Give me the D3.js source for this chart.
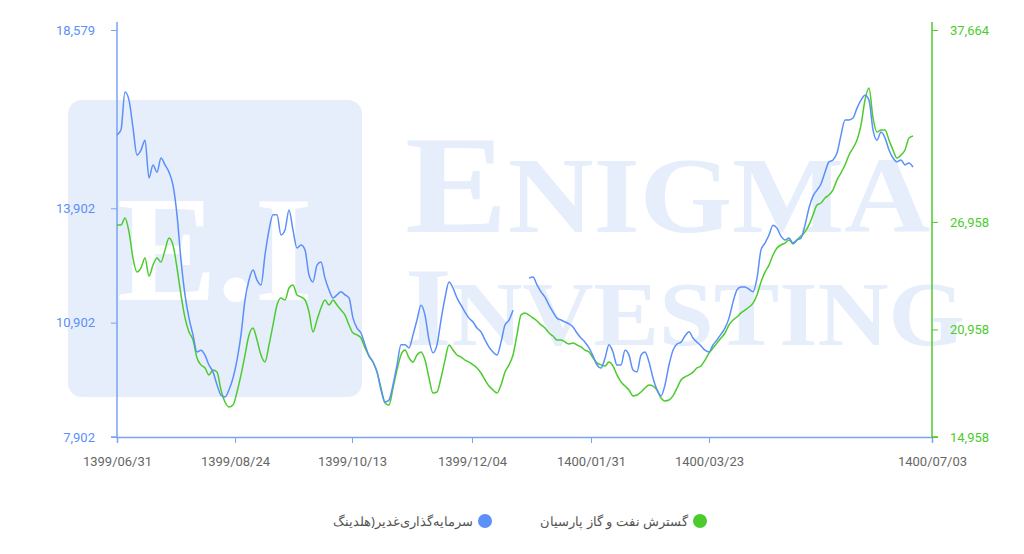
<!DOCTYPE html>
<html><head><meta charset="utf-8">
<script src="https://cdn.jsdelivr.net/npm/d3@7/dist/d3.min.js"></script>
<style>body{margin:0;background:#fff}svg{display:block}</style>
</head><body><svg id="c" width="1024" height="554"></svg>
<script>
const xTickLabels = ["1399/06/31","1399/08/24","1399/10/13","1399/12/04","1400/01/31","1400/03/23","1400/07/03"];
const xTickIndex = [0, 29.5, 58.75, 88.75, 118.5, 148, 203.75];
const leftTicks = [7902, 10902, 13902, 18579];
const rightTicks = [14958, 20958, 26958, 37664];
const seriesNames = ["سرمایه‌گذاری‌غدیر(هلدینگ", "گسترش نفت و گاز پارسیان"];
const ghadir = [15820,15960,16950,16740,16010,15300,15430,15690,14700,15040,14850,15220,15040,14850,14510,13730,12540,11630,11020,10580,10130,10180,10050,9790,9610,9270,9000,8950,9140,9450,9920,10580,11500,12020,12280,12020,11890,12680,13330,13730,13730,13200,13330,13860,13330,12860,12940,12810,12150,11970,12410,12490,12070,11760,11550,11630,11710,11630,11550,11020,10760,10630,10320,10030,9870,9610,9140,8820,8870,9270,9790,10320,10320,10240,10580,10970,11360,11100,10450,10110,10320,10970,11550,11970,11810,11550,11360,11180,11020,10920,10760,10660,10450,10260,10130,10050,10390,10840,10970,11230,null,null,null,12070,12100,11890,11710,11570,11360,11180,11020,10970,10920,10870,10790,10630,10500,10390,10240,10030,9790,9710,9970,10320,10130,9790,9790,10180,10050,9660,9610,10050,10130,9870,9450,9140,8980,9270,9790,10180,10340,10390,10550,10660,10500,10390,10290,10180,10130,10320,10450,10600,10760,11020,11440,11760,11840,11840,11780,11710,12070,12810,12990,13200,13460,13380,13170,13070,13120,12990,13070,13120,13460,13910,14220,14380,14540,14850,15120,15170,15350,15820,16220,16220,16270,16530,16740,16870,16740,15960,15690,15900,15750,15430,15220,15120,15170,15040,15090,14980];
const parsian = [26790,26790,27180,26400,24940,24160,24390,24940,23940,24550,24940,24720,25390,26060,25670,24390,22880,21600,20820,20370,19370,18980,18810,18420,18700,18580,17580,16910,16630,16740,17470,18420,19530,20650,21040,20370,19530,19140,20090,21210,22320,22710,22600,23270,23440,22880,22770,22600,21930,20820,21490,22160,22600,22320,22600,22320,22040,21760,21210,20760,20650,20480,19920,19480,19140,18580,17690,16860,16740,17690,18700,19530,19810,19370,19140,19530,19700,19250,18250,17410,17470,18250,19250,20090,19810,19530,19420,19250,19140,18980,18810,18530,18140,17800,17580,17410,17860,18580,18980,19530,20650,21760,21880,21760,21600,21430,21210,21040,20760,20590,20370,20370,20260,20150,20200,20090,19980,19810,19700,19370,19090,18980,18920,19140,18920,18420,18030,17800,17580,17250,17300,17470,17690,17860,17800,17580,17130,16970,17020,17250,17690,18140,18310,18420,18580,18810,18920,19250,19640,19920,20200,20480,20760,21210,21490,21650,21880,22040,22210,22430,22880,23610,24160,24550,25110,25500,25670,25780,25950,25730,25950,26170,26400,26790,27340,27900,28010,28290,28460,28740,29300,29690,30130,30690,31080,31530,32360,33760,34430,32760,31970,32090,32090,31530,30970,30520,30690,30970,31640,31750];

const blue = "#5b8ff9", green = "#4ccb2e", blueAxis = "#7aa3f5";
const svg = d3.select("#c");
const L = 117, R = 932, T = 30, B = 437;
const x = d3.scaleLinear().domain([0, 203.75]).range([L, R]);
const yL = d3.scaleLinear().domain([7902, 18579]).range([B, T]);
const yR = d3.scaleLinear().domain([14958, 37664]).range([B, T]);

// watermark
const wm = svg.append("g").attr("font-family","Liberation Serif, serif").attr("font-weight","bold");
wm.append("rect").attr("x",68).attr("y",100).attr("width",294).attr("height",297).attr("rx",14).attr("fill","#e7eefb");
wm.append("text").attr("x",215).attr("y",300).attr("text-anchor","middle").attr("font-size",150).attr("fill","#ffffff").text("E.I");
const w1 = wm.append("text").attr("x",405).attr("y",232).attr("fill","#e6eefb").attr("textLength",525).attr("lengthAdjust","spacingAndGlyphs");
w1.append("tspan").attr("font-size",140).text("E");
w1.append("tspan").attr("font-size",108).text("NIGMA");
const w2 = wm.append("text").attr("x",405).attr("y",345).attr("fill","#e6eefb").attr("textLength",560).attr("lengthAdjust","spacingAndGlyphs");
w2.append("tspan").attr("font-size",112).text("I");
w2.append("tspan").attr("font-size",92).text("NVESTING");

// axes
const ax = d3.axisBottom(x).tickValues(xTickIndex).tickFormat((d,i)=>xTickLabels[i]).tickSize(6).tickPadding(14);
const gx = svg.append("g").attr("transform",`translate(0,${B})`).call(ax);
gx.select(".domain").attr("stroke",blueAxis).attr("stroke-width",1.5);
gx.selectAll(".tick line").attr("stroke",blueAxis);
gx.selectAll(".tick text").attr("fill","#666").attr("font-size",13).attr("font-family","Roboto, sans-serif");

const al = d3.axisLeft(yL).tickValues(leftTicks).tickFormat(d3.format(",")).tickSize(6).tickPadding(16);
const gl = svg.append("g").attr("transform",`translate(${L},0)`).call(al);
gl.select(".domain").attr("stroke",blueAxis).attr("stroke-width",1.5).attr("d",`M-6,${B}H0V${T-8}`);
gl.selectAll(".tick line").attr("stroke",blueAxis);
gl.selectAll(".tick text").attr("fill",blue).attr("font-size",13).attr("font-family","Roboto, sans-serif");

const ar = d3.axisRight(yR).tickValues(rightTicks).tickFormat(d3.format(",")).tickSize(6).tickPadding(12);
const gr = svg.append("g").attr("transform",`translate(${R},0)`).call(ar);
gr.select(".domain").attr("stroke",green).attr("stroke-width",1.5).attr("d",`M6,${B}H0V${T-8}`);
gr.selectAll(".tick line").attr("stroke",green);
gr.selectAll(".tick text").attr("fill",green).attr("font-size",13).attr("font-family","Roboto, sans-serif");

// lines
const lineL = d3.line().defined(d=>d!=null).x((d,i)=>x(i)).y(d=>yL(d)).curve(d3.curveMonotoneX);
const lineR = d3.line().defined(d=>d!=null).x((d,i)=>x(i)).y(d=>yR(d)).curve(d3.curveMonotoneX);
svg.append("path").attr("d",lineR(parsian)).attr("fill","none").attr("stroke",green).attr("stroke-width",1.5);
svg.append("path").attr("d",lineL(ghadir)).attr("fill","none").attr("stroke",blue).attr("stroke-width",1.5);

// legend
const lg = svg.append("g").attr("font-family","Noto Sans, sans-serif").attr("font-size",13).attr("fill","#555");
lg.append("circle").attr("cx",700).attr("cy",521).attr("r",7).attr("fill",green);
lg.append("text").attr("x",688).attr("y",526).attr("text-anchor","start").attr("direction","rtl").text(seriesNames[1]);
lg.append("circle").attr("cx",485).attr("cy",521).attr("r",7).attr("fill",blue);
lg.append("text").attr("x",473).attr("y",526).attr("text-anchor","start").attr("direction","rtl").text(seriesNames[0]);
</script></body></html>
